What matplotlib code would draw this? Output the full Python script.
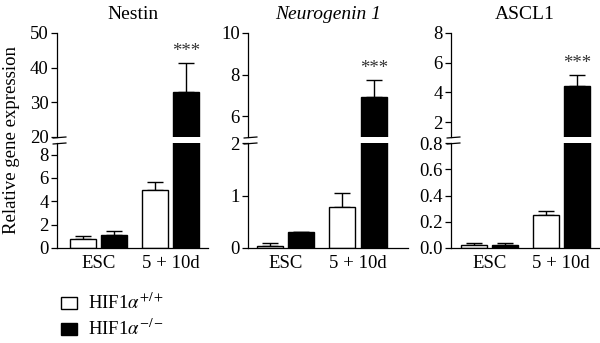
import matplotlib
matplotlib.use("Agg")
import matplotlib.pyplot as plt
from matplotlib.patches import Patch
import numpy as np

# ---------------- data ----------------
groups = ["ESC", "5 + 10d"]
genes = ["Nestin", "Neurogenin 1", "ASCL1"]

nestin_wt = [0.78, 4.97]
nestin_wt_err = [0.25, 0.70]
nestin_ko = [1.12, 33.0]
nestin_ko_err = [0.34, 8.4]

neurog_wt = [0.04, 0.79]
neurog_wt_err = [0.06, 0.25]
neurog_ko = [0.30, 6.9]
neurog_ko_err = [0.0, 0.85]

ascl_wt = [0.022, 0.25]
ascl_wt_err = [0.018, 0.03]
ascl_ko = [0.020, 4.4]
ascl_ko_err = [0.02, 0.8]

significance = ["", "***"]

legend_labels = [r"HIF1$\alpha^{+/+}$", r"HIF1$\alpha^{-/-}$"]

# axis ranges / ticks per panel (lower segment, upper segment)
lower_lims = [(0, 9), (0, 2), (0, 0.8)]
upper_lims = [(20, 50), (5, 10), (1, 8)]
lower_ticks = [[0, 2, 4, 6, 8], [0, 1, 2], [0.0, 0.2, 0.4, 0.6, 0.8]]
upper_ticks = [[20, 30, 40, 50], [6, 8, 10], [2, 4, 6, 8]]
lower_fmt = ["{:g}", "{:g}", "{:.1f}"]

# ---------------- style ----------------
plt.rcParams["font.family"] = ["Liberation Serif", "DejaVu Serif"]
plt.rcParams["mathtext.fontset"] = "stix"
plt.rcParams["axes.linewidth"] = 0.9
FS = 13.5

W, H = 600, 343
fig = plt.figure(figsize=(W / 100, H / 100), dpi=100)

# pixel layout of panels: (left, right), xlim
panel_px = [(57, 208), (248, 408), (451, 599)]
panel_xlim = [(-0.576, 1.517), (-0.512, 1.687), (-0.537, 1.526)]
up_top, up_bot = 33, 137
lo_top, lo_bot = 143, 248

data = [
    (nestin_wt, nestin_wt_err, nestin_ko, nestin_ko_err),
    (neurog_wt, neurog_wt_err, neurog_ko, neurog_ko_err),
    (ascl_wt, ascl_wt_err, ascl_ko, ascl_ko_err),
]

bw = 0.36
off = 0.215
x = np.arange(len(groups))


def break_mark(ax, y):
    ax.plot([0], [y], transform=ax.transAxes, marker=[(-0.55, -0.06), (1, 0.06)],
            markersize=13, color="black", mew=0.9, clip_on=False, linestyle="none")


for i, gene in enumerate(genes):
    l, r = panel_px[i]
    ax_up = fig.add_axes([l / W, 1 - up_bot / H, (r - l) / W, (up_bot - up_top) / H])
    ax_lo = fig.add_axes([l / W, 1 - lo_bot / H, (r - l) / W, (lo_bot - lo_top) / H])
    wt, wt_e, ko, ko_e = data[i]
    for ax in (ax_up, ax_lo):
        ax.bar(x - off, wt, bw, color="white", edgecolor="black", linewidth=1.0, zorder=2)
        ax.bar(x + off, ko, bw, color="black", edgecolor="black", linewidth=1.0, zorder=2)
        ax.errorbar(x - off, wt, yerr=[np.zeros(len(wt)), wt_e], fmt="none", ecolor="black",
                    elinewidth=1.0, capsize=5.5, capthick=1.0, zorder=1)
        ax.errorbar(x + off, ko, yerr=[np.zeros(len(ko)), ko_e], fmt="none", ecolor="black",
                    elinewidth=1.0, capsize=5.5, capthick=1.0, zorder=1)
        ax.set_xlim(*panel_xlim[i])
        ax.spines["top"].set_visible(False)
        ax.spines["right"].set_visible(False)
        ax.tick_params(axis="y", direction="out", length=4, width=0.9, pad=2, labelsize=FS)
        ax.tick_params(axis="x", length=0, labelsize=FS, pad=5)
        ax.set_facecolor("none")

    ax_up.set_ylim(*upper_lims[i])
    ax_up.set_yticks(upper_ticks[i])
    ax_up.spines["bottom"].set_visible(False)
    ax_up.set_xticks([])

    ax_lo.set_ylim(*lower_lims[i])
    ax_lo.set_yticks(lower_ticks[i])
    ax_lo.set_yticklabels([lower_fmt[i].format(t) for t in lower_ticks[i]])
    ax_lo.set_xticks(x)
    ax_lo.set_xticklabels(groups)

    break_mark(ax_up, 0)
    break_mark(ax_lo, 1)

    # significance stars
    for j, s in enumerate(significance):
        if s:
            top = ko[j] + ko_e[j]
            target = ax_up if top > upper_lims[i][0] else ax_lo
            target.annotate(s, xy=(x[j] + off, top), xytext=(0, 2), textcoords="offset points",
                            ha="center", va="bottom", fontsize=13.5, color="#333333")

    style = "italic" if gene == "Neurogenin 1" else "normal"
    ax_up.set_title(gene, fontsize=14, style=style, pad=10)

fig.text(12 / W, 1 - 140 / H, "Relative gene expression", rotation=90,
         ha="center", va="center", fontsize=13.5)

handles = [Patch(facecolor="white", edgecolor="black", linewidth=1.0),
           Patch(facecolor="black", edgecolor="black", linewidth=1.0)]
fig.legend(handles, legend_labels, loc="upper left", bbox_to_anchor=(61 / W, 1 - 293 / H),
           frameon=False, fontsize=13.5, handlelength=0.85, handleheight=0.6,
           handletextpad=0.6, labelspacing=0.3, borderpad=0, borderaxespad=0)

fig.savefig("out.png", dpi=100)
